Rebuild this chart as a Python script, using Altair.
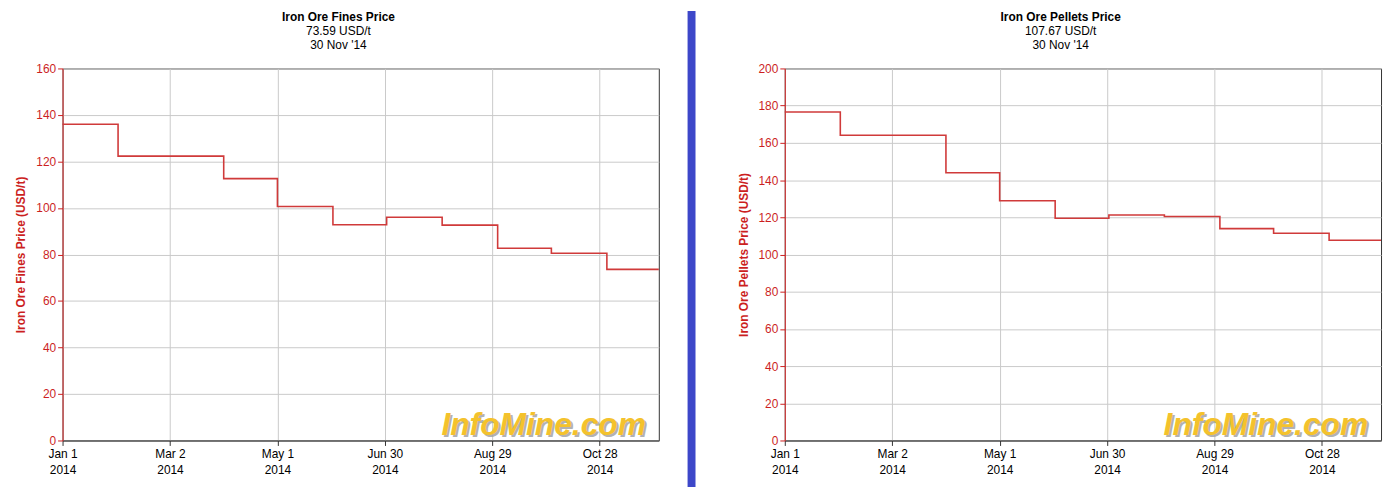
import altair as alt
import pandas as pd

# ---- data ----
dates = ["2014-01-01", "2014-02-01", "2014-03-01", "2014-04-01", "2014-05-01", "2014-06-01",
         "2014-07-01", "2014-08-01", "2014-09-01", "2014-10-01", "2014-11-01", "2014-11-30"]
fines = [136.0, 122.3, 122.3, 112.6, 100.6, 92.8, 96.0, 92.6, 82.7, 80.5, 73.59, 73.59]
pellets = [176.6, 164.1, 164.1, 143.9, 128.9, 119.5, 121.2, 120.4, 113.9, 111.4, 107.67, 107.67]
tick_dates = [(2014, 1, 1), (2014, 3, 2), (2014, 5, 1), (2014, 6, 30), (2014, 8, 29), (2014, 10, 28)]
domain_start = (2014, 1, 1)
domain_end = (2014, 11, 30)

FONT = "Liberation Sans"
RED = "#cc1f1f"
LINE = "#d03a3a"
GRID = "#c9c9c9"
W, H = 601, 375


def dt(t):
    return alt.DateTime(year=t[0], month=t[1], date=t[2], utc=True)


def panel(values, title, sub, ytitle, ymax):
    df = pd.DataFrame({"date": dates, "price": values})
    x = alt.X(
        "date:T",
        scale=alt.Scale(type="utc", domain=[dt(domain_start), dt(domain_end)]),
        axis=alt.Axis(
            values=[dt(t) for t in tick_dates],
            labelExpr="[utcFormat(datum.value, '%b %-d'), utcFormat(datum.value, '%Y')]",
            title=None, labelFont=FONT, labelFontSize=12, labelColor="#000",
            labelLineHeight=16, labelPadding=3, domainColor="#333", tickColor="#333",
            tickSize=5, gridColor=GRID, labelFlush=False,
        ),
    )
    y = alt.Y(
        "price:Q",
        scale=alt.Scale(domain=[0, ymax], nice=False),
        axis=alt.Axis(
            values=list(range(0, ymax + 1, 20)), title=ytitle, titleColor=RED,
            titleFont=FONT, titleFontSize=12, titleFontWeight="bold", titlePadding=8,
            labelColor=RED, labelFont=FONT, labelFontSize=12, labelPadding=2,
            domainColor=RED, tickColor=RED, tickSize=5, gridColor=GRID,
        ),
    )
    line = alt.Chart(df).mark_line(interpolate="step-after", color=LINE, strokeWidth=1.6).encode(x=x, y=y)
    wm = pd.DataFrame({"t": ["InfoMine.com"]})
    shadow = alt.Chart(wm).mark_text(
        font=FONT, fontSize=32, fontWeight="bold", fontStyle="italic", color="#a0a0a0",
        align="right", baseline="alphabetic", opacity=0.8,
    ).encode(text="t:N", x=alt.value(W - 11), y=alt.value(H - 4))
    mark = alt.Chart(wm).mark_text(
        font=FONT, fontSize=32, fontWeight="bold", fontStyle="italic", color="#f4c22c",
        align="right", baseline="alphabetic",
    ).encode(text="t:N", x=alt.value(W - 13), y=alt.value(H - 6))
    return alt.layer(line, shadow, mark).properties(
        width=W, height=H,
        title=alt.TitleParams(
            text=title, subtitle=sub, font=FONT, fontSize=12, fontWeight="bold", color="#000",
            subtitleFont=FONT, subtitleFontSize=12, subtitleColor="#000", subtitleLineHeight=14,
            subtitlePadding=2, anchor="middle", frame="bounds", offset=11,
        ),
        view=alt.ViewBackground(stroke="#333", strokeWidth=1),
    )


left = panel(fines, "Iron Ore Fines Price", ["73.59 USD/t", "30 Nov '14"],
             "Iron Ore Fines Price (USD/t)", 160)
right = panel(pellets, "Iron Ore Pellets Price", ["107.67 USD/t", "30 Nov '14"],
              "Iron Ore Pellets Price (USD/t)", 200)

divider = alt.Chart(pd.DataFrame({"a": [0]})).mark_rect(color="#3d47c9").encode(
    x=alt.value(29), x2=alt.value(37), y=alt.value(-58), y2=alt.value(H + 50)
).properties(width=127, height=H, view=alt.ViewBackground(stroke=None))

chart = alt.hconcat(left, divider, right, spacing=0, bounds="flush").properties(
    padding={"left": 6, "top": 0, "right": 0, "bottom": 0}
).configure(background="white")

chart.save("out.html", embed_options={"renderer": "svg", "actions": False})
